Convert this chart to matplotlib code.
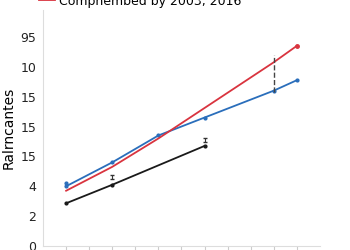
import numpy as np
import matplotlib.pyplot as plt

# data
blue_x = [0, 2, 4, 6, 9, 10]
blue_y = [2.0, 2.8, 3.7, 4.3, 5.2, 5.55]
red_x = [0, 2, 4, 9, 10]
red_y = [1.85, 2.65, 3.6, 6.15, 6.7]
black_x = [0, 2, 6]
black_y = [1.43, 2.05, 3.35]
err_x = [2, 6]
err_y = [2.3, 3.55]
dash_x = 9
dash_lo, dash_hi = 5.15, 6.4
ytick_labels = ['0', '2', '4', '15', '15', '15', '10', '95']
legend_label = 'Compnembed by 2003, 2016'

fig = plt.figure(figsize=(3.5, 2.5), dpi=100)
ax = fig.add_axes([0.123, 0.016, 0.791, 0.944])

ax.plot(blue_x, blue_y, color='#2a6ebb', lw=1.3, marker='o', ms=2)
ax.plot([blue_x[0]], [blue_y[0] + 0.12], 'o', color='#2a6ebb', ms=2)
ax.plot(red_x, red_y, color='#d9343f', lw=1.3, label=legend_label)
ax.plot([red_x[-1]], [red_y[-1]], 'o', color='#d9343f', ms=2.5)
ax.plot(black_x, black_y, color='#1a1a1a', lw=1.3, marker='o', ms=2)
ax.errorbar(err_x, err_y, yerr=0.07, fmt='none', ecolor='#333333',
            elinewidth=0.8, capsize=1.5)
ax.vlines(dash_x, dash_lo, dash_hi, colors='#444444', linestyles='--', lw=1)

ax.set_xlim(-1, 11)
ax.set_ylim(0, 7.9)
ax.set_xticks(range(0, 11))
ax.set_xticklabels([])
ax.set_yticks(range(len(ytick_labels)))
ax.set_yticklabels(ytick_labels, fontsize=9, color='#222222')
ax.tick_params(axis='y', length=0, pad=5)
ax.tick_params(axis='x', length=3, color='#cccccc')
ax.set_ylabel('Ralrncantes', fontsize=10)
ax.yaxis.set_label_coords(-0.1, 0.5)

for s in ['top', 'right']:
    ax.spines[s].set_visible(False)
for s in ['left', 'bottom']:
    ax.spines[s].set_color('#dddddd')

fig.legend(loc='center', bbox_to_anchor=(0.4, 0.995), frameon=False,
           fontsize=9, handlelength=1.3, handletextpad=0.3)

fig.savefig('out.png', dpi=100)
